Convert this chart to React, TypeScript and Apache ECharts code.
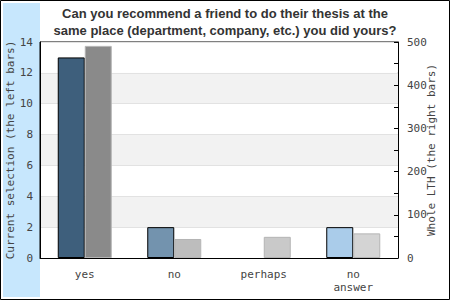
import React, { useEffect, useRef } from "react";
import * as echarts from "echarts";

const categories = ["yes", "no", "perhaps", "no\nanswer"];
const currentSelection = [13, 2, 0, 2];
const wholeLTH = [491, 44, 49, 57];
const leftColors = ["#3e5f7c", "#7393ae", "#7393ae", "#aaccea"];
const rightColors = ["#8a8a8a", "#bdbdbd", "#c9c9c9", "#d4d4d4"];
const titleText =
  "Can you recommend a friend to do their thesis at the\nsame place (department, company, etc.) you did yours?";
const leftName = "Current selection (the left bars)";
const rightName = "Whole LTH (the right bars)";

const mono = "DejaVu Sans Mono";

export default function App() {
  const ref = useRef<HTMLDivElement>(null);
  useEffect(() => {
    if (!ref.current) return;
    const chart = echarts.init(ref.current, undefined, { renderer: "svg" });
    chart.setOption({
      animation: false,
      backgroundColor: "#ffffff",
      graphic: [
        {
          type: "rect",
          z: -10,
          silent: true,
          shape: { x: 3, y: 3, width: 37, height: 294 },
          style: { fill: "#c7e7fd" },
        },
        {
          type: "rect",
          z: 100,
          silent: true,
          shape: { x: 0.5, y: 0.5, width: 449, height: 299 },
          style: { fill: "none", stroke: "#000", lineWidth: 1 },
        },
      ],
      title: {
        text: titleText,
        left: "center",
        top: 0,
        textStyle: {
          fontFamily: "Liberation Sans",
          fontWeight: "bold",
          fontSize: 13,
          lineHeight: 17,
          color: "#333",
        },
      },
      grid: {
        left: 40,
        right: 52,
        top: 42,
        bottom: 42,
        outerBoundsMode: "none",
        containLabel: false,
        show: true,
        backgroundColor: "#ffffff",
        borderColor: "#000",
        borderWidth: 1,
      },
      xAxis: {
        type: "category",
        data: categories,
        axisLine: { lineStyle: { color: "#000" } },
        axisTick: { show: false },
        axisLabel: {
          fontFamily: mono,
          fontSize: 11,
          color: "#444",
          margin: 10,
          lineHeight: 13,
        },
      },
      yAxis: [
        {
          type: "value",
          min: 0,
          max: 14,
          interval: 2,
          name: leftName,
          nameLocation: "middle",
          nameGap: 24,
          nameMoveOverlap: false,
          nameTextStyle: { fontFamily: mono, fontSize: 11, color: "#444" },
          axisLine: { show: true, lineStyle: { color: "#000" } },
          axisTick: { show: false },
          axisLabel: { fontFamily: mono, fontSize: 11, color: "#444", margin: 7 },
          splitLine: { show: true, lineStyle: { color: "#e2e2e2" } },
          splitArea: { show: true, areaStyle: { color: ["#ffffff", "#f2f2f2"] } },
        },
        {
          type: "value",
          min: 0,
          max: 500,
          interval: 50,
          position: "right",
          name: rightName,
          nameLocation: "middle",
          nameGap: 28,
          nameMoveOverlap: false,
          nameTextStyle: { fontFamily: mono, fontSize: 11, color: "#444" },
          axisLine: { show: true, lineStyle: { color: "#000" } },
          axisTick: { show: true, inside: true, length: 4, lineStyle: { color: "#000" } },
          axisLabel: {
            fontFamily: mono,
            fontSize: 11,
            color: "#444",
            margin: 9,
            formatter: (v: number) => (v % 100 === 0 ? String(v) : ""),
          },
          splitLine: { show: false },
        },
      ],
      series: [
        {
          type: "bar",
          yAxisIndex: 0,
          barWidth: 27,
          barGap: "0%",
          data: currentSelection.map((v, i) => ({
            value: v,
            itemStyle: { color: leftColors[i], borderColor: "#000", borderWidth: v > 0 ? 1 : 0 },
          })),
        },
        {
          type: "bar",
          yAxisIndex: 1,
          barWidth: 27,
          barGap: "0%",
          data: wholeLTH.map((v, i) => ({
            value: v,
            itemStyle: { color: rightColors[i], borderColor: "#b4b4b4", borderWidth: 1 },
          })),
        },
      ],
    });
    return () => chart.dispose();
  }, []);
  return (
    <div
      ref={ref}
      style={{ position: "fixed", left: 0, top: 0, width: 450, height: 300 }}
    />
  );
}
